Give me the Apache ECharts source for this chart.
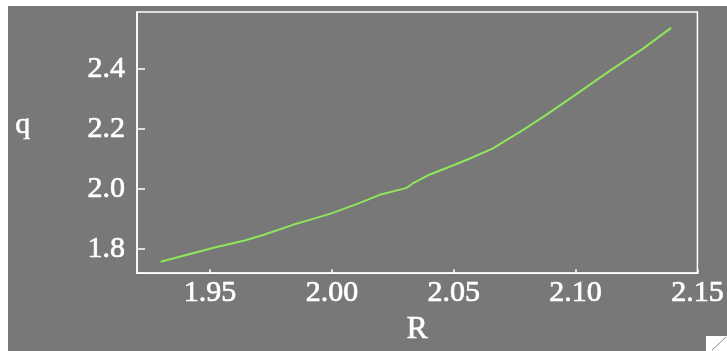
<!DOCTYPE html>
<html>
<head>
<meta charset="utf-8">
<script src="https://cdn.jsdelivr.net/npm/echarts@6/dist/echarts.min.js"></script>
<style>
html,body{margin:0;padding:0;background:#fff;}
#c{width:727px;height:351px;}
</style>
</head>
<body>
<div id="c"></div>
<script>
var rValues = [1.9297, 1.9523, 1.9642, 1.9721, 1.9840, 1.9919, 1.9998, 2.0117, 2.0196, 2.0263, 2.0307, 2.0330, 2.0394, 2.0473, 2.0552, 2.0659, 2.0790, 2.0881, 2.1015, 2.1146, 2.1277, 2.1392];
var qValues = [1.758, 1.806, 1.829, 1.848, 1.881, 1.900, 1.919, 1.955, 1.981, 1.995, 2.004, 2.018, 2.046, 2.071, 2.097, 2.135, 2.200, 2.248, 2.323, 2.397, 2.468, 2.537];
var xTicks = [1.95, 2.00, 2.05, 2.10, 2.15];
var yTicks = [1.8, 2.0, 2.2, 2.4];
var xName = 'R';
var yName = 'q';

var data = rValues.map(function (r, i) { return [r, qValues[i]]; });
var font = "'Liberation Serif', 'DejaVu Serif', serif";
var chart = echarts.init(document.getElementById('c'), null, {renderer: 'canvas'});
chart.setOption({
  backgroundColor: '#ffffff',
  animation: false,
  graphic: [
    {type: 'rect', shape: {x: 8, y: 6, width: 719, height: 345}, style: {fill: '#787878'}, z: -100},
    {type: 'rect', shape: {x: 706, y: 336, width: 21, height: 15}, style: {fill: '#ffffff'}, z: -50},
    {type: 'line', shape: {x1: 712, y1: 350, x2: 726, y2: 337}, style: {stroke: '#888', lineWidth: 1}, z: -40},
    {type: 'text', left: 15, top: 110, style: {text: yName, fill: '#ffffff', font: '30px ' + font, stroke: '#ffffff', lineWidth: 0.6}}
  ],
  grid: {left: 137, top: 12, right: 8, bottom: 70, show: true, borderColor: '#ffffff', borderWidth: 1.5, backgroundColor: 'transparent'},
  xAxis: {
    type: 'value', min: 1.92, max: 2.15,
    name: xName, nameLocation: 'middle', nameGap: 40,
    nameTextStyle: {color: '#ffffff', fontFamily: font, fontSize: 32, textBorderColor: '#ffffff', textBorderWidth: 0.6},
    axisLine: {show: true, lineStyle: {color: '#ffffff', width: 1.5}},
    axisTick: {show: true, inside: true, length: 4, customValues: xTicks, lineStyle: {color: '#ffffff', width: 1.5}},
    axisLabel: {show: true, customValues: xTicks, color: '#ffffff', fontFamily: font, fontSize: 30, margin: 5,
      textBorderColor: '#ffffff', textBorderWidth: 0.7,
      formatter: function (v) { return v.toFixed(2); }},
    splitLine: {show: false}
  },
  yAxis: {
    type: 'value', min: 1.72, max: 2.59,
    axisLine: {show: true, lineStyle: {color: '#ffffff', width: 1.5}},
    axisTick: {show: true, inside: true, length: 8, customValues: yTicks, lineStyle: {color: '#ffffff', width: 1.5}},
    axisLabel: {show: true, customValues: yTicks, color: '#ffffff', fontFamily: font, fontSize: 30, margin: 12,
      textBorderColor: '#ffffff', textBorderWidth: 0.7, padding: [0, 0, 4, 0],
      formatter: function (v) { return v.toFixed(1); }},
    splitLine: {show: false}
  },
  series: [{
    type: 'line', data: data, showSymbol: false, smooth: false,
    lineStyle: {color: '#8ee65a', width: 2}
  }]
});
</script>
</body>
</html>
